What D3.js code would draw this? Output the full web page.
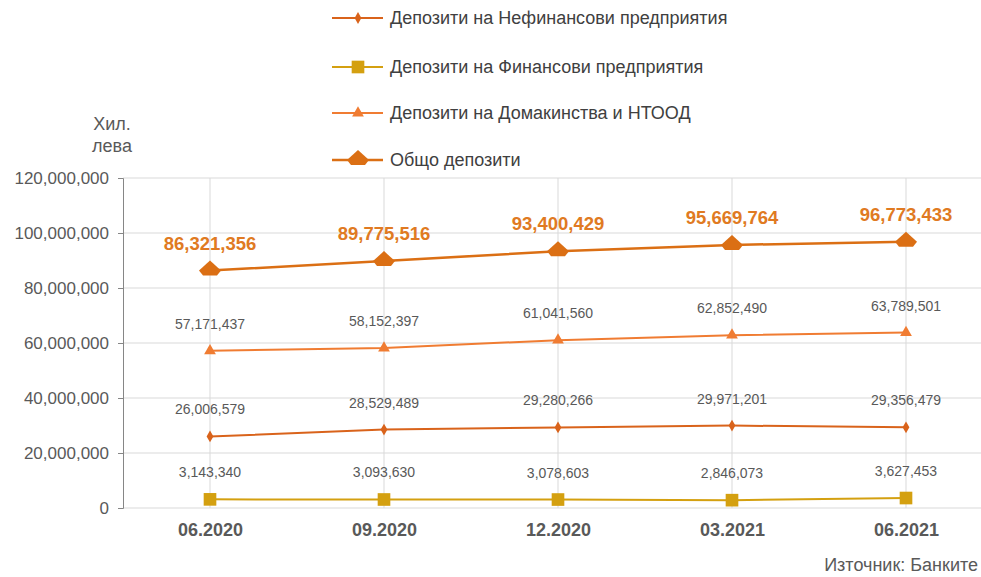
<!DOCTYPE html>
<html>
<head>
<meta charset="utf-8">
<script src="https://cdn.jsdelivr.net/npm/d3@7"></script>
<style>
  body { margin: 0; background: #fff; }
  svg text { font-family: "Liberation Sans", Arial, sans-serif; }
</style>
</head>
<body>
<div id="chart"></div>
<script>
var periods = ["06.2020", "09.2020", "12.2020", "03.2021", "06.2021"];
var nonFinancial = [26006579, 28529489, 29280266, 29971201, 29356479];
var financial = [3143340, 3093630, 3078603, 2846073, 3627453];
var households = [57171437, 58152397, 61041560, 62852490, 63789501];
var total = [86321356, 89775516, 93400429, 95669764, 96773433];
var yTicks = [0, 20000000, 40000000, 60000000, 80000000, 100000000, 120000000];

var series = [
  { name: "Депозити на Нефинансови предприятия", values: nonFinancial, color: "#d9631b", marker: "diamond", size: 40, width: 2 },
  { name: "Депозити на Финансови предприятия", values: financial, color: "#d4a010", marker: "square", size: 160, width: 2 },
  { name: "Депозити на Домакинства и НТООД", values: households, color: "#f07c32", marker: "triangle", size: 60, width: 2 },
  { name: "Общо депозити", values: total, color: "#db6f14", marker: "house", size: 0, width: 2.5, big: true }
];

var W = 981, H = 577;
var mLeft = 123, mRight = 993, mTop = 178, mBottom = 508;

var svg = d3.select("#chart").append("svg")
  .attr("width", W).attr("height", H);

var x = d3.scalePoint().domain(periods).range([mLeft, mRight]).padding(0.5);
var y = d3.scaleLinear().domain([0, 120000000]).range([mBottom, mTop]);
var fmt = d3.format(",");

// grid
svg.append("g").selectAll("line").data(yTicks).enter().append("line")
  .attr("x1", mLeft).attr("x2", 981)
  .attr("y1", function(d) { return y(d); }).attr("y2", function(d) { return y(d); })
  .attr("stroke", "#d9d9d9").attr("stroke-width", 1);
svg.append("g").selectAll("line").data(periods).enter().append("line")
  .attr("x1", function(d) { return x(d); }).attr("x2", function(d) { return x(d); })
  .attr("y1", mTop).attr("y2", mBottom)
  .attr("stroke", "#d9d9d9").attr("stroke-width", 1);

// y axis
var yAxis = svg.append("g").attr("transform", "translate(" + mLeft + ",0)")
  .call(d3.axisLeft(y).tickValues(yTicks).tickFormat(fmt).tickSize(5).tickPadding(9));
yAxis.select(".domain").attr("stroke", "#868686");
yAxis.selectAll(".tick line").attr("stroke", "#868686");
yAxis.selectAll("text").attr("fill", "#595959").style("font-size", "17px");

// x labels
var xAxis = svg.append("g").attr("transform", "translate(0," + mBottom + ")")
  .call(d3.axisBottom(x).tickSize(0).tickPadding(15));
xAxis.select(".domain").remove();
xAxis.selectAll("text").attr("fill", "#595959").style("font-size", "18px").style("font-weight", "bold");

// unit label
svg.append("text").attr("x", 112).attr("y", 130).attr("text-anchor", "middle")
  .attr("fill", "#595959").style("font-size", "18px").text("Хил.");
svg.append("text").attr("x", 112).attr("y", 152).attr("text-anchor", "middle")
  .attr("fill", "#595959").style("font-size", "18px").text("лева");

var housePath = "M0,-10L11,0L7,5L-7,5L-11,0Z";
var symbolFor = function(s) {
  if (s.marker === "house") return function() { return housePath; };
  var t = s.marker === "square" ? d3.symbolSquare : s.marker === "triangle" ? d3.symbolTriangle : d3.symbolDiamond;
  return d3.symbol().type(t).size(s.size);
};

var line = d3.line()
  .x(function(d, i) { return x(periods[i]); })
  .y(function(d) { return y(d); });

series.forEach(function(s) {
  var g = svg.append("g");
  g.append("path").datum(s.values).attr("d", line)
    .attr("fill", "none").attr("stroke", s.color).attr("stroke-width", s.width);
  g.selectAll("path.m").data(s.values).enter().append("path").attr("class", "m")
    .attr("transform", function(d, i) { return "translate(" + x(periods[i]) + "," + y(d) + ")"; })
    .attr("d", symbolFor(s)()).attr("fill", s.color);
  g.selectAll("text").data(s.values).enter().append("text")
    .attr("x", function(d, i) { return x(periods[i]); })
    .attr("y", function(d) { return y(d) - (s.big ? 21 : 22); })
    .attr("text-anchor", "middle")
    .attr("fill", s.big ? "#e07a22" : "#595959")
    .style("font-size", s.big ? "18.5px" : "14px")
    .style("font-weight", s.big ? "bold" : "normal")
    .text(function(d) { return fmt(d); });
});

// legend
var leg = svg.append("g").selectAll("g").data(series).enter().append("g")
  .attr("transform", function(d, i) { return "translate(332," + [18, 67, 113, 160][i] + ")"; });
leg.append("line").attr("x1", 0).attr("x2", 51).attr("y1", 0).attr("y2", 0)
  .attr("stroke", function(d) { return d.color; }).attr("stroke-width", function(d) { return d.width; });
leg.append("path").attr("transform", "translate(26,0)")
  .attr("d", function(d) { return symbolFor(d)(); }).attr("fill", function(d) { return d.color; });
leg.append("text").attr("x", 58).attr("y", 6).attr("fill", "#404040")
  .style("font-size", "18px").text(function(d) { return d.name; });

// source
svg.append("text").attr("x", 978).attr("y", 571).attr("text-anchor", "end")
  .attr("fill", "#595959").style("font-size", "18px").text("Източник: Банките");
</script>
</body>
</html>
